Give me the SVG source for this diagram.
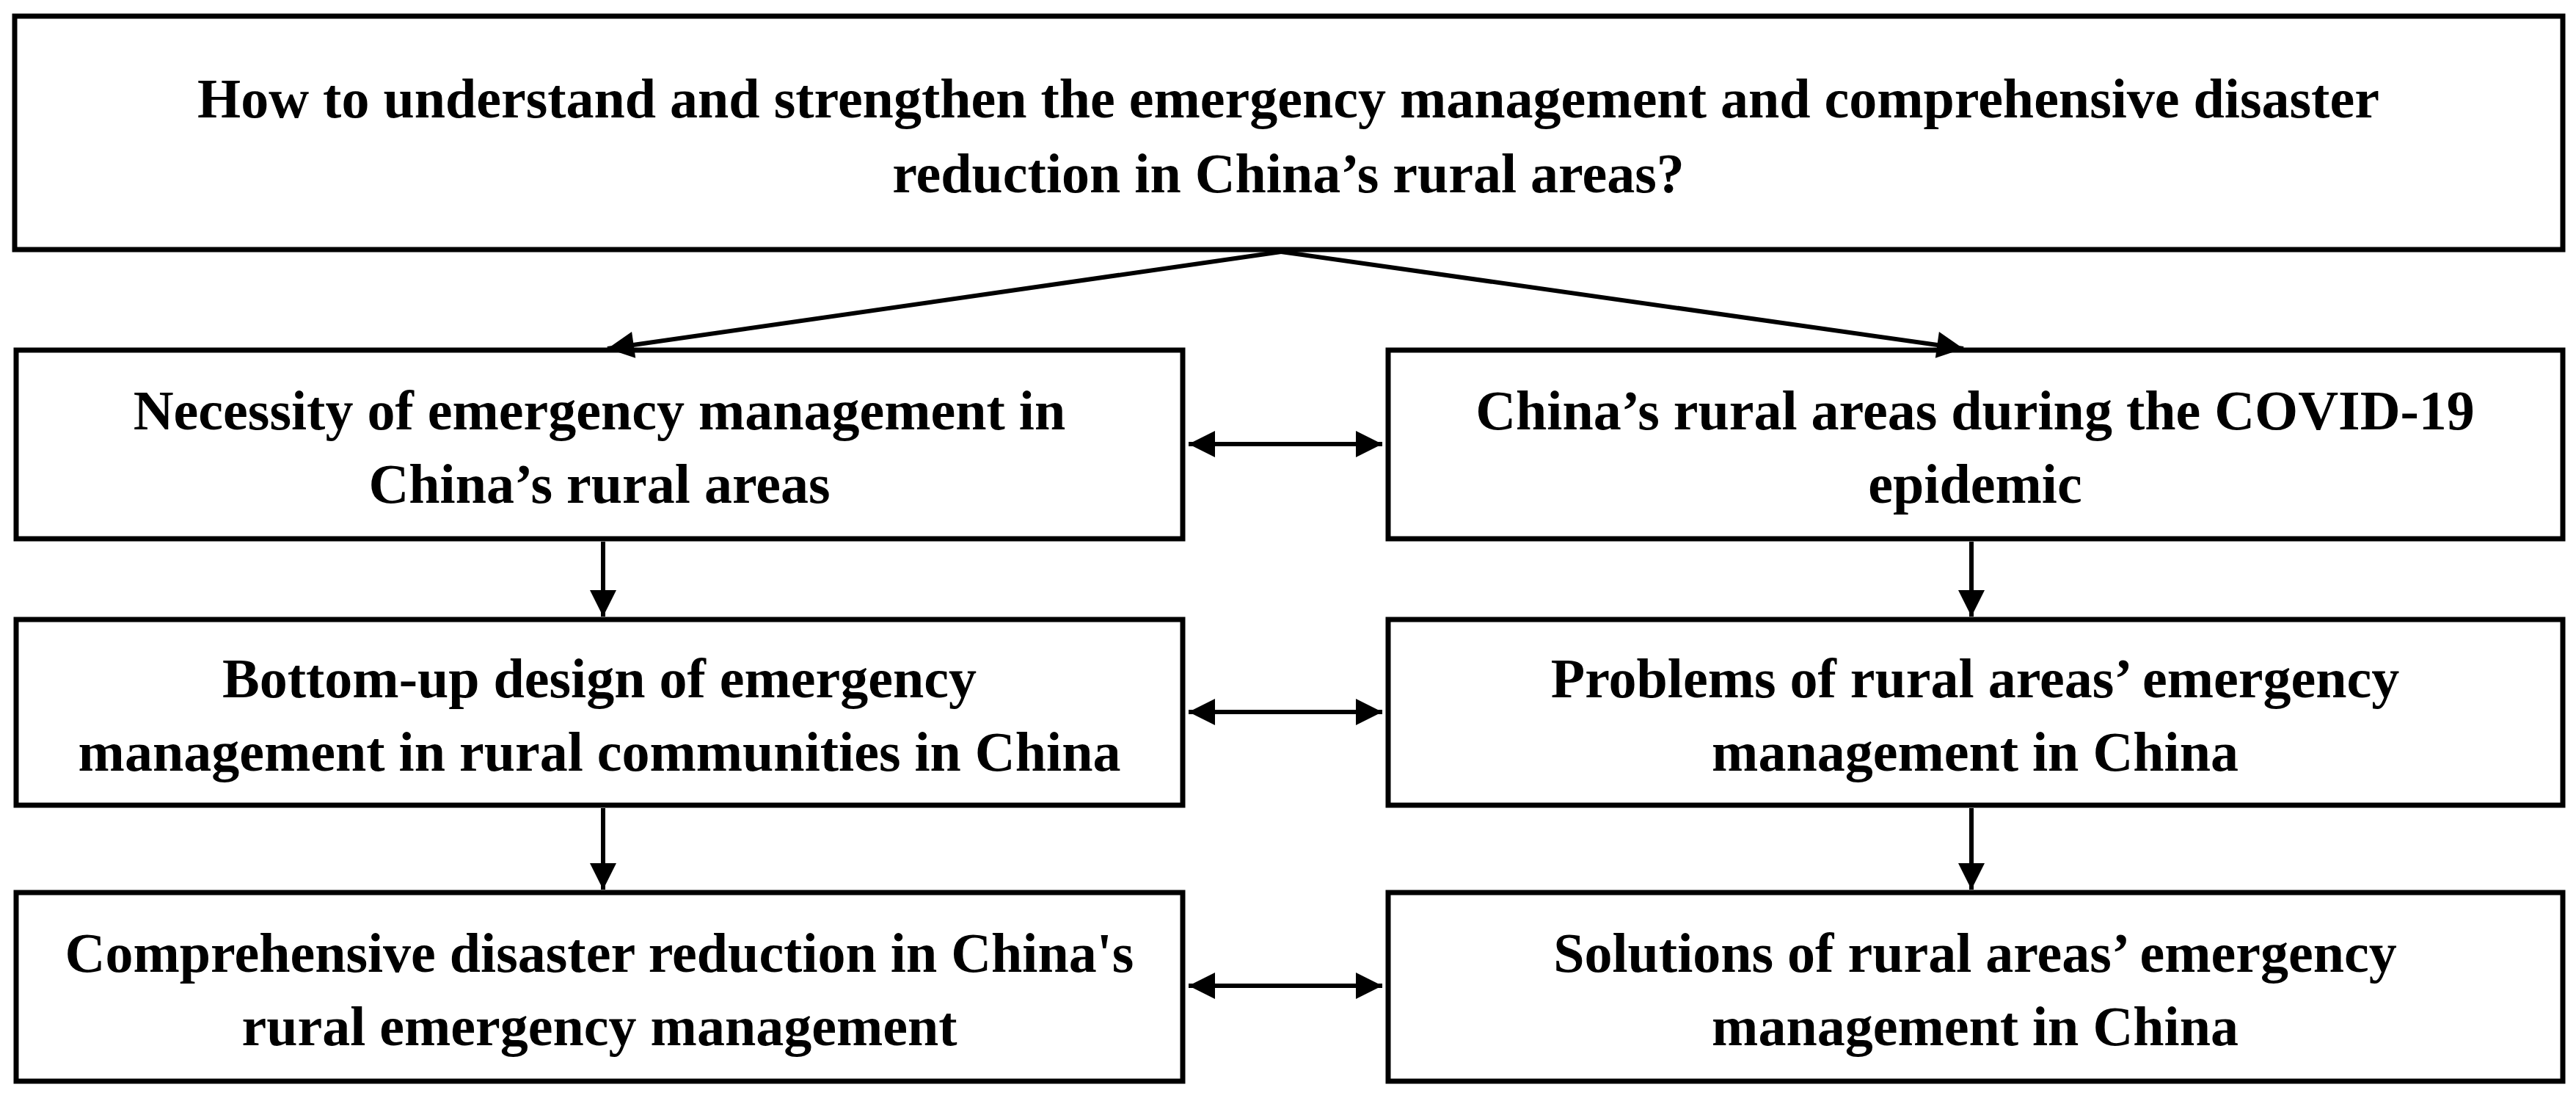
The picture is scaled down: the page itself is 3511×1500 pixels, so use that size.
<svg xmlns="http://www.w3.org/2000/svg" width="3511" height="1500" viewBox="0 0 3511 1500">
<style>
.b{fill:#fff;stroke:#000;stroke-width:7}
.t{font-family:"Liberation Serif",serif;font-weight:bold;font-size:76px;text-anchor:middle;fill:#000}
.c{stroke:#000;stroke-width:6;fill:none}
</style>
<defs>
<marker id="a" viewBox="0 0 10 10" refX="10" refY="5" markerWidth="7" markerHeight="6" markerUnits="strokeWidth" orient="auto-start-reverse"><path d="M0,0L10,5L0,10z" fill="#000"/></marker>
</defs>
<rect width="3511" height="1500" fill="#fff"/>
<g id="top"><rect class="b" x="20" y="22" width="3473" height="318"/>
<text class="t" x="1756" y="160">How to understand and strengthen the emergency management and comprehensive disaster</text>
<text class="t" x="1756" y="262">reduction in China’s rural areas?</text></g>
<g id="n1"><rect class="b" x="22" y="477" width="1590" height="257"/>
<text class="t" x="817" y="585">Necessity of emergency management in</text>
<text class="t" x="817" y="685">China’s rural areas</text></g>
<g id="n2"><rect class="b" x="1892" y="477" width="1601" height="257"/>
<text class="t" x="2692" y="585">China’s rural areas during the COVID-19</text>
<text class="t" x="2692" y="685">epidemic</text></g>
<g id="n3"><rect class="b" x="22" y="844" width="1590" height="253"/>
<text class="t" x="817" y="950">Bottom-up design of emergency</text>
<text class="t" x="817" y="1050">management in rural communities in China</text></g>
<g id="n4"><rect class="b" x="1892" y="844" width="1601" height="253"/>
<text class="t" x="2692" y="950">Problems of rural areas’ emergency</text>
<text class="t" x="2692" y="1050">management in China</text></g>
<g id="n5"><rect class="b" x="22" y="1216" width="1590" height="257"/>
<text class="t" x="817" y="1324">Comprehensive disaster reduction in China's</text>
<text class="t" x="817" y="1424">rural emergency management</text></g>
<g id="n6"><rect class="b" x="1892" y="1216" width="1601" height="257"/>
<text class="t" x="2692" y="1324">Solutions of rural areas’ emergency</text>
<text class="t" x="2692" y="1424">management in China</text></g>
<g id="connectors">
<path class="c" d="M1746,343L828,475" marker-end="url(#a)"/>
<path class="c" d="M1746,343L2676,475" marker-end="url(#a)"/>
<path class="c" d="M822,738V840" marker-end="url(#a)"/>
<path class="c" d="M2687,738V840" marker-end="url(#a)"/>
<path class="c" d="M822,1101V1212" marker-end="url(#a)"/>
<path class="c" d="M2687,1101V1212" marker-end="url(#a)"/>
<path class="c" d="M1620,605H1884" marker-start="url(#a)" marker-end="url(#a)"/>
<path class="c" d="M1620,970H1884" marker-start="url(#a)" marker-end="url(#a)"/>
<path class="c" d="M1620,1343H1884" marker-start="url(#a)" marker-end="url(#a)"/>
</g>
</svg>
